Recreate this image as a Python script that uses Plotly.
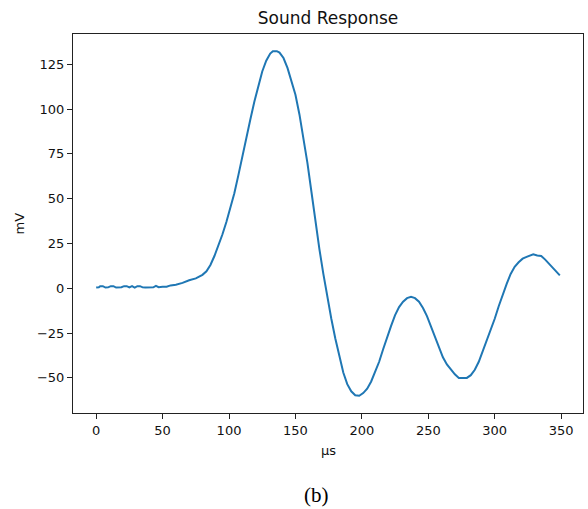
import plotly.graph_objects as go

# time (µs) and response (mV)
t_us = [0, 2, 3, 5, 7, 9, 11, 13, 15, 17, 19, 21, 23, 25, 27, 29, 31, 33, 35, 37, 39, 41, 43, 45, 47, 50,
        53, 56, 60, 65, 70, 75, 80, 83, 86, 89, 92, 95, 98, 101, 104, 107, 110, 113, 116, 119, 122, 125,
        128, 131, 133, 136, 138, 141, 144, 147, 150, 153, 156, 159, 162, 165, 168, 171, 174, 177, 180,
        183, 186, 189, 192, 195, 198, 201, 204, 207, 210, 213, 216, 219, 222, 225, 228, 231, 234, 237,
        240, 243, 246, 249, 252, 255, 258, 261, 264, 267, 270, 273, 276, 279, 282, 285, 288, 291, 294,
        297, 300, 303, 306, 309, 312, 315, 318, 321, 324, 327, 329, 332, 335, 338, 341, 344, 347, 349]
mv = [0.4, 0.6, 1.2, 1.2, 0.4, 0.5, 1.2, 1.2, 0.4, 0.4, 0.6, 1.2, 1.2, 0.5, 1.2, 0.4, 1.2, 1.2, 0.5, 0.4, 0.5, 0.6, 0.5, 1.3, 0.6, 0.8,
      0.9, 1.6, 2.0, 3.0, 4.5, 5.5, 7.5, 9.5, 13, 18, 23.5, 30, 37, 45, 53, 63, 74, 84, 94, 104, 113, 121,
      127, 131, 132.3, 132.3, 131.5, 128.5, 123, 116, 108, 97, 84, 70, 54, 37, 22, 8, -5, -17, -28,
      -38, -47, -53.5, -57.5, -59.7, -60, -58.5, -56, -52, -47, -41, -34, -27, -21, -15, -10.5, -7.5, -5.5, -4.8,
      -5.5, -7.5, -11, -15.5, -21, -27, -33, -38.5, -42.5, -45.5, -48, -50, -50, -50, -48.5, -45.5, -41, -35, -29.5,
      -24, -17, -10, -3.5, 2.5, 8, 12, 14.5, 16.5, 17.5, 18.5, 19, 18.3, 18, 16, 13.5, 11, 8.5, 7.2]

x_ticks = [0, 50, 100, 150, 200, 250, 300, 350]
y_ticks = [-50, -25, 0, 25, 50, 75, 100, 125]

# plot area in pixels
L, R, T, B = 73, 583, 34, 413
W, H = 588, 509


def px_x(px):
    return (px - L) / (R - L)


def px_y(py):
    return (B - py) / (B - T)


fig = go.Figure()
fig.add_trace(go.Scatter(x=t_us, y=mv, mode="lines",
                         line=dict(color="#1f77b4", width=2), showlegend=False))

axis_common = dict(showgrid=False, zeroline=False, showline=True, mirror=True,
                   linecolor="#222", linewidth=1, ticks="outside", ticklen=5,
                   tickcolor="#222", tickwidth=1,
                   tickfont=dict(family="DejaVu Sans", size=13, color="#111"))

fig.update_layout(
    width=W, height=H,
    margin=dict(l=L, r=W - R, t=T, b=H - B),
    plot_bgcolor="white", paper_bgcolor="white",
    title=dict(text="Sound Response", x=(L + R) / 2 / W, xanchor="center",
               y=1 - 18 / H, yanchor="middle", yref="container",
               font=dict(family="DejaVu Sans", size=17, color="#111")),
    xaxis=dict(range=[-17.45, 366.45], tickvals=x_ticks, **axis_common),
    yaxis=dict(range=[-69.6, 141.9], tickvals=y_ticks, **axis_common),
    annotations=[
        dict(text="µs", x=0.5, xref="paper", y=px_y(450), yref="paper",
             showarrow=False, xanchor="center", yanchor="middle",
             font=dict(family="DejaVu Sans", size=13, color="#111")),
        dict(text="mV", x=px_x(19), xref="paper", y=0.5, yref="paper",
             showarrow=False, textangle=-90, xanchor="center", yanchor="middle",
             font=dict(family="DejaVu Sans", size=13, color="#111")),
        dict(text="(b)", x=px_x(316), xref="paper", y=px_y(495), yref="paper",
             showarrow=False, xanchor="center", yanchor="middle",
             font=dict(family="Liberation Serif", size=21, color="black")),
    ],
)

fig.write_html("out.html",
               config={"displayModeBar": False},
               post_script="document.body.style.margin='0';document.body.style.overflow='hidden';")
